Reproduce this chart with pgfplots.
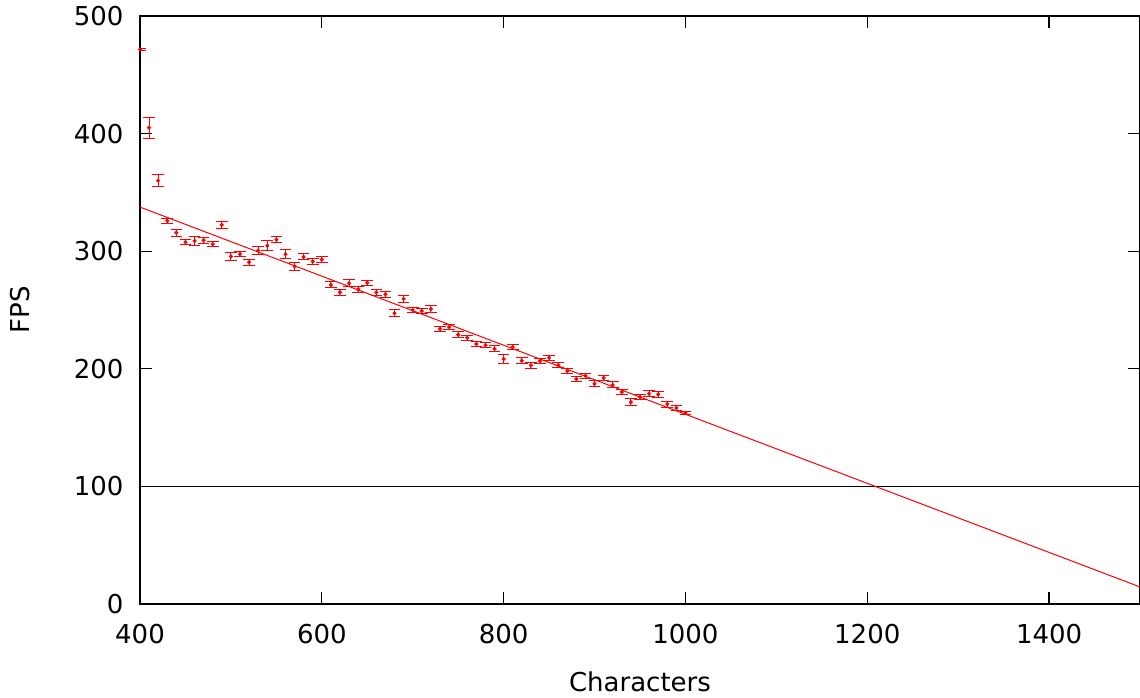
\documentclass[border=0pt]{standalone}
\usepackage{fontspec}
\setmainfont{DejaVu Sans}
\usepackage{pgfplots}
\usepackage{pgfplotstable}
\pgfplotsset{compat=1.18}
\pgfplotstableread{
x y e
400 471.5 0.8
410 405 9
420 360 5
430 325.8 2
440 315.7 3
450 307.6 2
460 308.7 4
470 309.3 2.4
480 306 2.3
490 322.3 3.1
500 295.5 3.5
510 297.6 2.1
520 290.6 2.7
530 300.5 3.5
540 304.7 4.3
550 309.8 2.6
560 297.4 3.7
570 287.1 3.1
580 295.2 2.6
590 291.2 2.4
600 292.9 2.4
610 271.3 2.6
620 265 2.8
630 272.7 3
640 267.6 2.5
650 273.2 2
660 265 2.5
670 263.3 2.5
680 247.2 3.1
690 259.4 3
700 250 2.5
710 249.1 2.5
720 250.8 3
730 233.8 2.5
740 235.5 2.5
750 229 2.3
760 226.4 2.3
770 221.1 2.3
780 220 2.3
790 217 2.5
800 208.3 3.8
810 218.5 2
820 206.9 2.3
830 203 2.5
840 206.6 2.3
850 209.4 2.3
860 203 2.3
870 198.1 2.3
880 191.3 2.3
890 194.1 2.3
900 187.3 2.5
910 192.2 2.5
920 186.3 2.5
930 180.2 2.3
940 171.7 3.1
950 176 2
960 178.8 2.5
970 178.3 2.3
980 170 2.5
990 166.8 2
1000 162.4 1.5
}\fpsdata
\begin{document}
\begin{tikzpicture}
\begin{axis}[
  scale only axis,
  width=500pt, height=294pt,
  xmin=400, xmax=1500, ymin=0, ymax=500,
  xtick={400,600,...,1400},
  ytick={0,100,...,500},
  minor tick num=0,
  tick align=inside,
  major tick length=6pt,
  axis line style={line width=0.8pt},
  tick style={line width=0.6pt, black},
  /pgf/number format/assume math mode=true,
  /pgf/number format/set thousands separator={},
  tick label style={font=\fontsize{13}{15}\selectfont},
  yticklabel style={xshift=-4.7pt},
  xticklabel style={yshift=-6.5pt},
  every axis x label/.style={at={(axis description cs:0.5,-0.133)}, anchor=center, font=\fontsize{13}{15}\selectfont},
  every axis y label/.style={at={(axis description cs:-0.12,0.5)}, rotate=90, anchor=center, font=\fontsize{13}{15}\selectfont},
  xlabel={Characters},
  ylabel={FPS},
  clip=true,
]
\addplot[black, line width=0.5pt] coordinates {(400,100) (1500,100)};
\addplot[red, line width=0.5pt] coordinates {(400,337.5) (1500,14.5)};
\addplot[red, only marks, mark=*, mark size=0.8pt,
  error bars/.cd, y dir=both, y explicit,
  error bar style={red, line width=0.5pt},
  error mark options={rotate=90, mark size=2.9pt, red, line width=0.5pt}]
  table[x=x, y=y, y error=e] {\fpsdata};
\end{axis}
\pgfresetboundingbox
\path[use as bounding box] ([xshift=-70pt,yshift=-47pt]current axis.south west) rectangle ([yshift=8pt]current axis.north east);
\end{tikzpicture}
\end{document}
